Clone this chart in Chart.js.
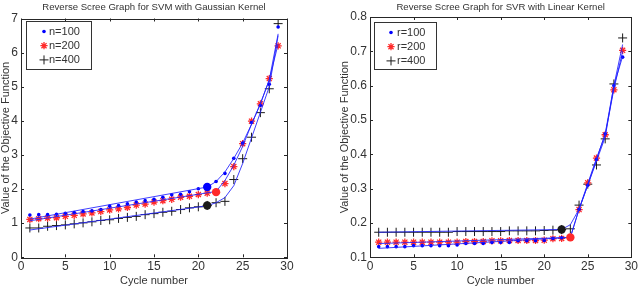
<!DOCTYPE html>
<html lang="en">
<head>
  <meta charset="UTF-8">
  <title>Reverse Scree Graphs</title>
  <script src="https://cdn.jsdelivr.net/npm/chart.js@4.4.0/dist/chart.umd.min.js"></script>
  <style>
    body { margin: 0; background: #fff; width: 640px; height: 286px; overflow: hidden; }
    .panel { position: absolute; top: 0; width: 320px; height: 286px; }
    #leftPanel { left: 0; }
    #rightPanel { left: 320px; }
  </style>
</head>
<body>
  <div class="panel" id="leftPanel"><canvas id="svmChart" width="320" height="286"></canvas></div>
  <div class="panel" id="rightPanel"><canvas id="svrChart" width="320" height="286"></canvas></div>

  <script>
    // cycle numbers (x)
    const cycles = [1, 2, 3, 4, 5, 6, 7, 8, 9, 10, 11, 12, 13, 14, 15, 16, 17, 18, 19, 20, 21, 22, 23, 24, 25, 26, 27, 28, 29];

    // left: SVM with Gaussian kernel
    const svm100 = [1.24, 1.25, 1.25, 1.26, 1.29, 1.31, 1.34, 1.36, 1.40, 1.50, 1.52, 1.57, 1.62, 1.66, 1.70, 1.76, 1.83, 1.85, 1.92, 2.01, 2.06, 2.22, 2.46, 2.90, 3.35, 3.95, 4.45, 5.07, 6.75];
    const svm200 = [1.11, 1.13, 1.15, 1.16, 1.20, 1.23, 1.27, 1.30, 1.34, 1.39, 1.42, 1.46, 1.53, 1.56, 1.62, 1.66, 1.70, 1.76, 1.79, 1.84, 1.88, 1.91, 2.16, 2.66, 3.33, 3.99, 4.50, 5.24, 6.20];
    const svm400 = [0.86, 0.86, 0.91, 0.93, 0.95, 0.98, 1.01, 1.04, 1.08, 1.10, 1.14, 1.17, 1.20, 1.25, 1.28, 1.32, 1.35, 1.40, 1.45, 1.48, 1.52, 1.60, 1.64, 2.28, 2.89, 3.52, 4.24, 4.94, 6.85];
    const svmFit100X = [1, 21, 22, 23, 24, 25, 26, 27, 28, 29];
    const svmFit100Y = [1.12, 2.06, 2.22, 2.50, 2.90, 3.35, 3.90, 4.50, 5.20, 6.55];
    const svmFit200X = [1, 22, 23, 24, 25, 26, 27, 28, 29];
    const svmFit200Y = [1.07, 1.93, 2.25, 2.70, 3.25, 3.90, 4.50, 5.20, 6.25];
    const svmFit400X = [1, 21, 22, 23, 24, 25, 26, 27, 28, 29];
    const svmFit400Y = [0.80, 1.51, 1.60, 1.75, 2.10, 2.75, 3.50, 4.25, 5.00, 6.50];
    const svmKinkX = [21, 22, 21];
    const svmKinkY = [2.06, 1.91, 1.52];

    // right: SVR with linear kernel
    const svr100 = [0.131, 0.131, 0.131, 0.131, 0.134, 0.134, 0.134, 0.134, 0.134, 0.136, 0.140, 0.140, 0.140, 0.143, 0.143, 0.143, 0.148, 0.148, 0.148, 0.149, 0.155, 0.157, 0.160, 0.240, 0.310, 0.385, 0.460, 0.600, 0.683];
    const svr200 = [0.144, 0.144, 0.144, 0.144, 0.144, 0.144, 0.144, 0.144, 0.144, 0.144, 0.146, 0.146, 0.146, 0.148, 0.148, 0.149, 0.149, 0.149, 0.149, 0.150, 0.154, 0.155, 0.158, 0.239, 0.317, 0.389, 0.457, 0.588, 0.703];
    const svr400 = [0.173, 0.173, 0.173, 0.173, 0.173, 0.173, 0.173, 0.173, 0.173, 0.175, 0.175, 0.175, 0.175, 0.175, 0.175, 0.177, 0.177, 0.177, 0.177, 0.178, 0.179, 0.181, 0.183, 0.252, 0.313, 0.369, 0.445, 0.605, 0.739];
    const svrFit100X = [1, 23, 24, 25, 26, 27, 28, 29];
    const svrFit100Y = [0.126, 0.158, 0.240, 0.310, 0.385, 0.460, 0.600, 0.685];
    const svrFit200X = [1, 23, 24, 25, 26, 27, 28, 29];
    const svrFit200Y = [0.140, 0.158, 0.240, 0.315, 0.388, 0.457, 0.590, 0.700];
    const svrFit400X = [1, 22, 23, 24, 25, 26, 27, 28, 29];
    const svrFit400Y = [0.173, 0.181, 0.195, 0.240, 0.310, 0.380, 0.450, 0.600, 0.720];
    const svrKinkX = [22, 23];
    const svrKinkY = [0.181, 0.158];

    const xTicks = [0, 5, 10, 15, 20, 25, 30];
    const svmYTicks = [0, 1, 2, 3, 4, 5, 6, 7];
    const svrYTicks = [0.1, 0.2, 0.3, 0.4, 0.5, 0.6, 0.7, 0.8];

    const BLUE = '#0000ff', RED = '#ff2a2a', BLACK = '#1a1a1a', FIT = 'rgba(30,30,255,0.85)';
    const FONT = '"Liberation Sans", Arial, sans-serif';
    const TXT = '#333';

    const pts = (xs, ys) => xs.map((x, i) => ({ x: x, y: ys[i] }));

    function seriesSets(labels, s1, s2, s3, fits, kinkX, kinkY, kinkColors) {
      const sets = [
        { label: labels[0], data: pts(cycles, s1), showLine: false, pointStyle: 'circle', pointRadius: 1.8,
          pointBackgroundColor: BLUE, pointBorderColor: BLUE, pointBorderWidth: 0, legend: true, order: 3 },
        { label: labels[1], data: pts(cycles, s2), showLine: false, pointStyle: 'star', pointRadius: 3.6,
          pointBorderColor: RED, pointBackgroundColor: RED, pointBorderWidth: 1.3, legend: true, order: 3 },
        { label: labels[2], data: pts(cycles, s3), showLine: false, pointStyle: 'cross', pointRadius: 4.5,
          pointBorderColor: BLACK, pointBackgroundColor: BLACK, pointBorderWidth: 1, legend: true, order: 3 }
      ];
      fits.forEach(f => sets.push({
        label: 'fit', data: pts(f[0], f[1]), showLine: true, borderColor: FIT, borderWidth: 1,
        pointRadius: 0, tension: 0, order: 2
      }));
      kinkX.forEach((x, i) => sets.push({
        label: 'kink', data: [{ x: x, y: kinkY[i] }], showLine: false, pointStyle: 'circle', pointRadius: 4.2,
        pointBackgroundColor: kinkColors[i], pointBorderColor: kinkColors[i], pointBorderWidth: 0, order: 1
      }));
      return sets;
    }

    // box, inward ticks, title and legend in MATLAB style
    const matlabFrame = {
      id: 'matlabFrame',
      afterDraw(chart, args, opts) {
        const ctx = chart.ctx, a = chart.chartArea;
        const xs = chart.scales.x, ys = chart.scales.y;
        ctx.save();
        ctx.strokeStyle = '#262626';
        ctx.lineWidth = 1;
        ctx.strokeRect(Math.round(a.left) + 0.5, Math.round(a.top) + 0.5, Math.round(a.right - a.left), Math.round(a.bottom - a.top));
        ctx.beginPath();
        xs.ticks.forEach(t => {
          const px = Math.round(xs.getPixelForValue(t.value)) + 0.5;
          ctx.moveTo(px, a.bottom); ctx.lineTo(px, a.bottom - 3);
          ctx.moveTo(px, a.top); ctx.lineTo(px, a.top + 3);
        });
        ys.ticks.forEach(t => {
          const py = Math.round(ys.getPixelForValue(t.value)) + 0.5;
          ctx.moveTo(a.left, py); ctx.lineTo(a.left + 3, py);
          ctx.moveTo(a.right, py); ctx.lineTo(a.right - 3, py);
        });
        ctx.stroke();

        // title
        ctx.fillStyle = TXT;
        ctx.font = '9.6px ' + FONT;
        ctx.textAlign = 'center';
        ctx.textBaseline = 'middle';
        ctx.fillText(opts.title, (a.left + a.right) / 2, 7);

        // legend
        const L = opts.legendBox;
        ctx.fillStyle = '#fff';
        ctx.fillRect(L.x, L.y, L.w, L.h);
        ctx.strokeStyle = '#333';
        ctx.strokeRect(L.x + 0.5, L.y + 0.5, L.w, L.h);
        const items = chart.data.datasets.filter(d => d.legend);
        items.forEach((d, i) => {
          const cy = L.y + 10.5 + i * 14.2;
          const mx = L.x + L.markX;
          ctx.strokeStyle = d.pointBorderColor;
          ctx.fillStyle = d.pointBackgroundColor;
          ctx.lineWidth = d.pointBorderWidth || 1;
          ctx.beginPath();
          if (d.pointStyle === 'circle') {
            ctx.arc(mx, cy, 1.8, 0, Math.PI * 2); ctx.fill();
          } else if (d.pointStyle === 'star') {
            const r = 3.6;
            ctx.moveTo(mx - r, cy); ctx.lineTo(mx + r, cy);
            ctx.moveTo(mx, cy - r); ctx.lineTo(mx, cy + r);
            const q = r * 0.707;
            ctx.moveTo(mx - q, cy - q); ctx.lineTo(mx + q, cy + q);
            ctx.moveTo(mx - q, cy + q); ctx.lineTo(mx + q, cy - q);
            ctx.stroke();
          } else {
            const r = 4.5;
            ctx.moveTo(mx - r, cy); ctx.lineTo(mx + r, cy);
            ctx.moveTo(mx, cy - r); ctx.lineTo(mx, cy + r);
            ctx.stroke();
          }
          ctx.fillStyle = TXT;
          ctx.font = '11px ' + FONT;
          ctx.textAlign = 'left';
          ctx.fillText(d.label, L.x + L.textX, cy);
        });
        ctx.restore();
      }
    };

    function makeChart(id, datasets, yMin, yMax, yFmt, pad, yWidth, frame) {
      return new Chart(document.getElementById(id).getContext('2d'), {
        type: 'scatter',
        data: { datasets: datasets },
        plugins: [matlabFrame],
        options: {
          responsive: false,
          animation: false,
          layout: { padding: pad },
          plugins: { legend: { display: false }, tooltip: { enabled: false }, matlabFrame: frame },
          scales: {
            x: {
              type: 'linear', min: 0, max: 30,
              afterBuildTicks: s => { s.ticks = xTicks.map(v => ({ value: v })); },
              ticks: { padding: 2, color: TXT, font: { family: FONT, size: 12 }, maxRotation: 0 },
              grid: { display: false, drawTicks: false, tickLength: 0 }, border: { display: false },
              title: { display: true, text: 'Cycle number', color: TXT, font: { family: FONT, size: 11, lineHeight: 1 }, padding: 0 },
              afterFit: s => { s.height = 28.7; }
            },
            y: {
              type: 'linear', min: yMin, max: yMax,
              afterBuildTicks: s => { s.ticks = (yMax > 1 ? svmYTicks : svrYTicks).map(v => ({ value: v })); },
              ticks: { padding: 3, color: TXT, font: { family: FONT, size: 12 }, callback: yFmt },
              grid: { display: false, drawTicks: false, tickLength: 0 }, border: { display: false },
              title: { display: true, text: 'Value of the Objective Function', color: TXT, font: { family: FONT, size: 11, lineHeight: 1 }, padding: 0 },
              afterFit: s => { s.width = yWidth; }
            }
          }
        }
      });
    }

    makeChart('svmChart',
      seriesSets(['n=100', 'n=200', 'n=400'], svm100, svm200, svm400,
        [[svmFit100X, svmFit100Y], [svmFit200X, svmFit200Y], [svmFit400X, svmFit400Y]],
        svmKinkX, svmKinkY, [BLUE, RED, BLACK]),
      0, 7, v => String(v),
      { top: 18.5, right: 33, left: 0, bottom: 0 }, 21,
      { title: 'Reverse Scree Graph for SVM with Gaussian Kernel', legendBox: { x: 26, y: 21, w: 65, h: 48, markX: 18, textX: 23 } });

    makeChart('svrChart',
      seriesSets(['r=100', 'r=200', 'r=400'], svr100, svr200, svr400,
        [[svrFit100X, svrFit100Y], [svrFit200X, svrFit200Y], [svrFit400X, svrFit400Y]],
        svrKinkX, svrKinkY, [BLACK, RED]),
      0.1, 0.8, v => v.toFixed(1),
      { top: 17, right: 5, left: 19, bottom: 0 }, 31,
      { title: 'Reverse Scree Graph for SVR with Linear Kernel', legendBox: { x: 54, y: 22, w: 62, h: 47, markX: 17, textX: 23 } });
  </script>
</body>
</html>
